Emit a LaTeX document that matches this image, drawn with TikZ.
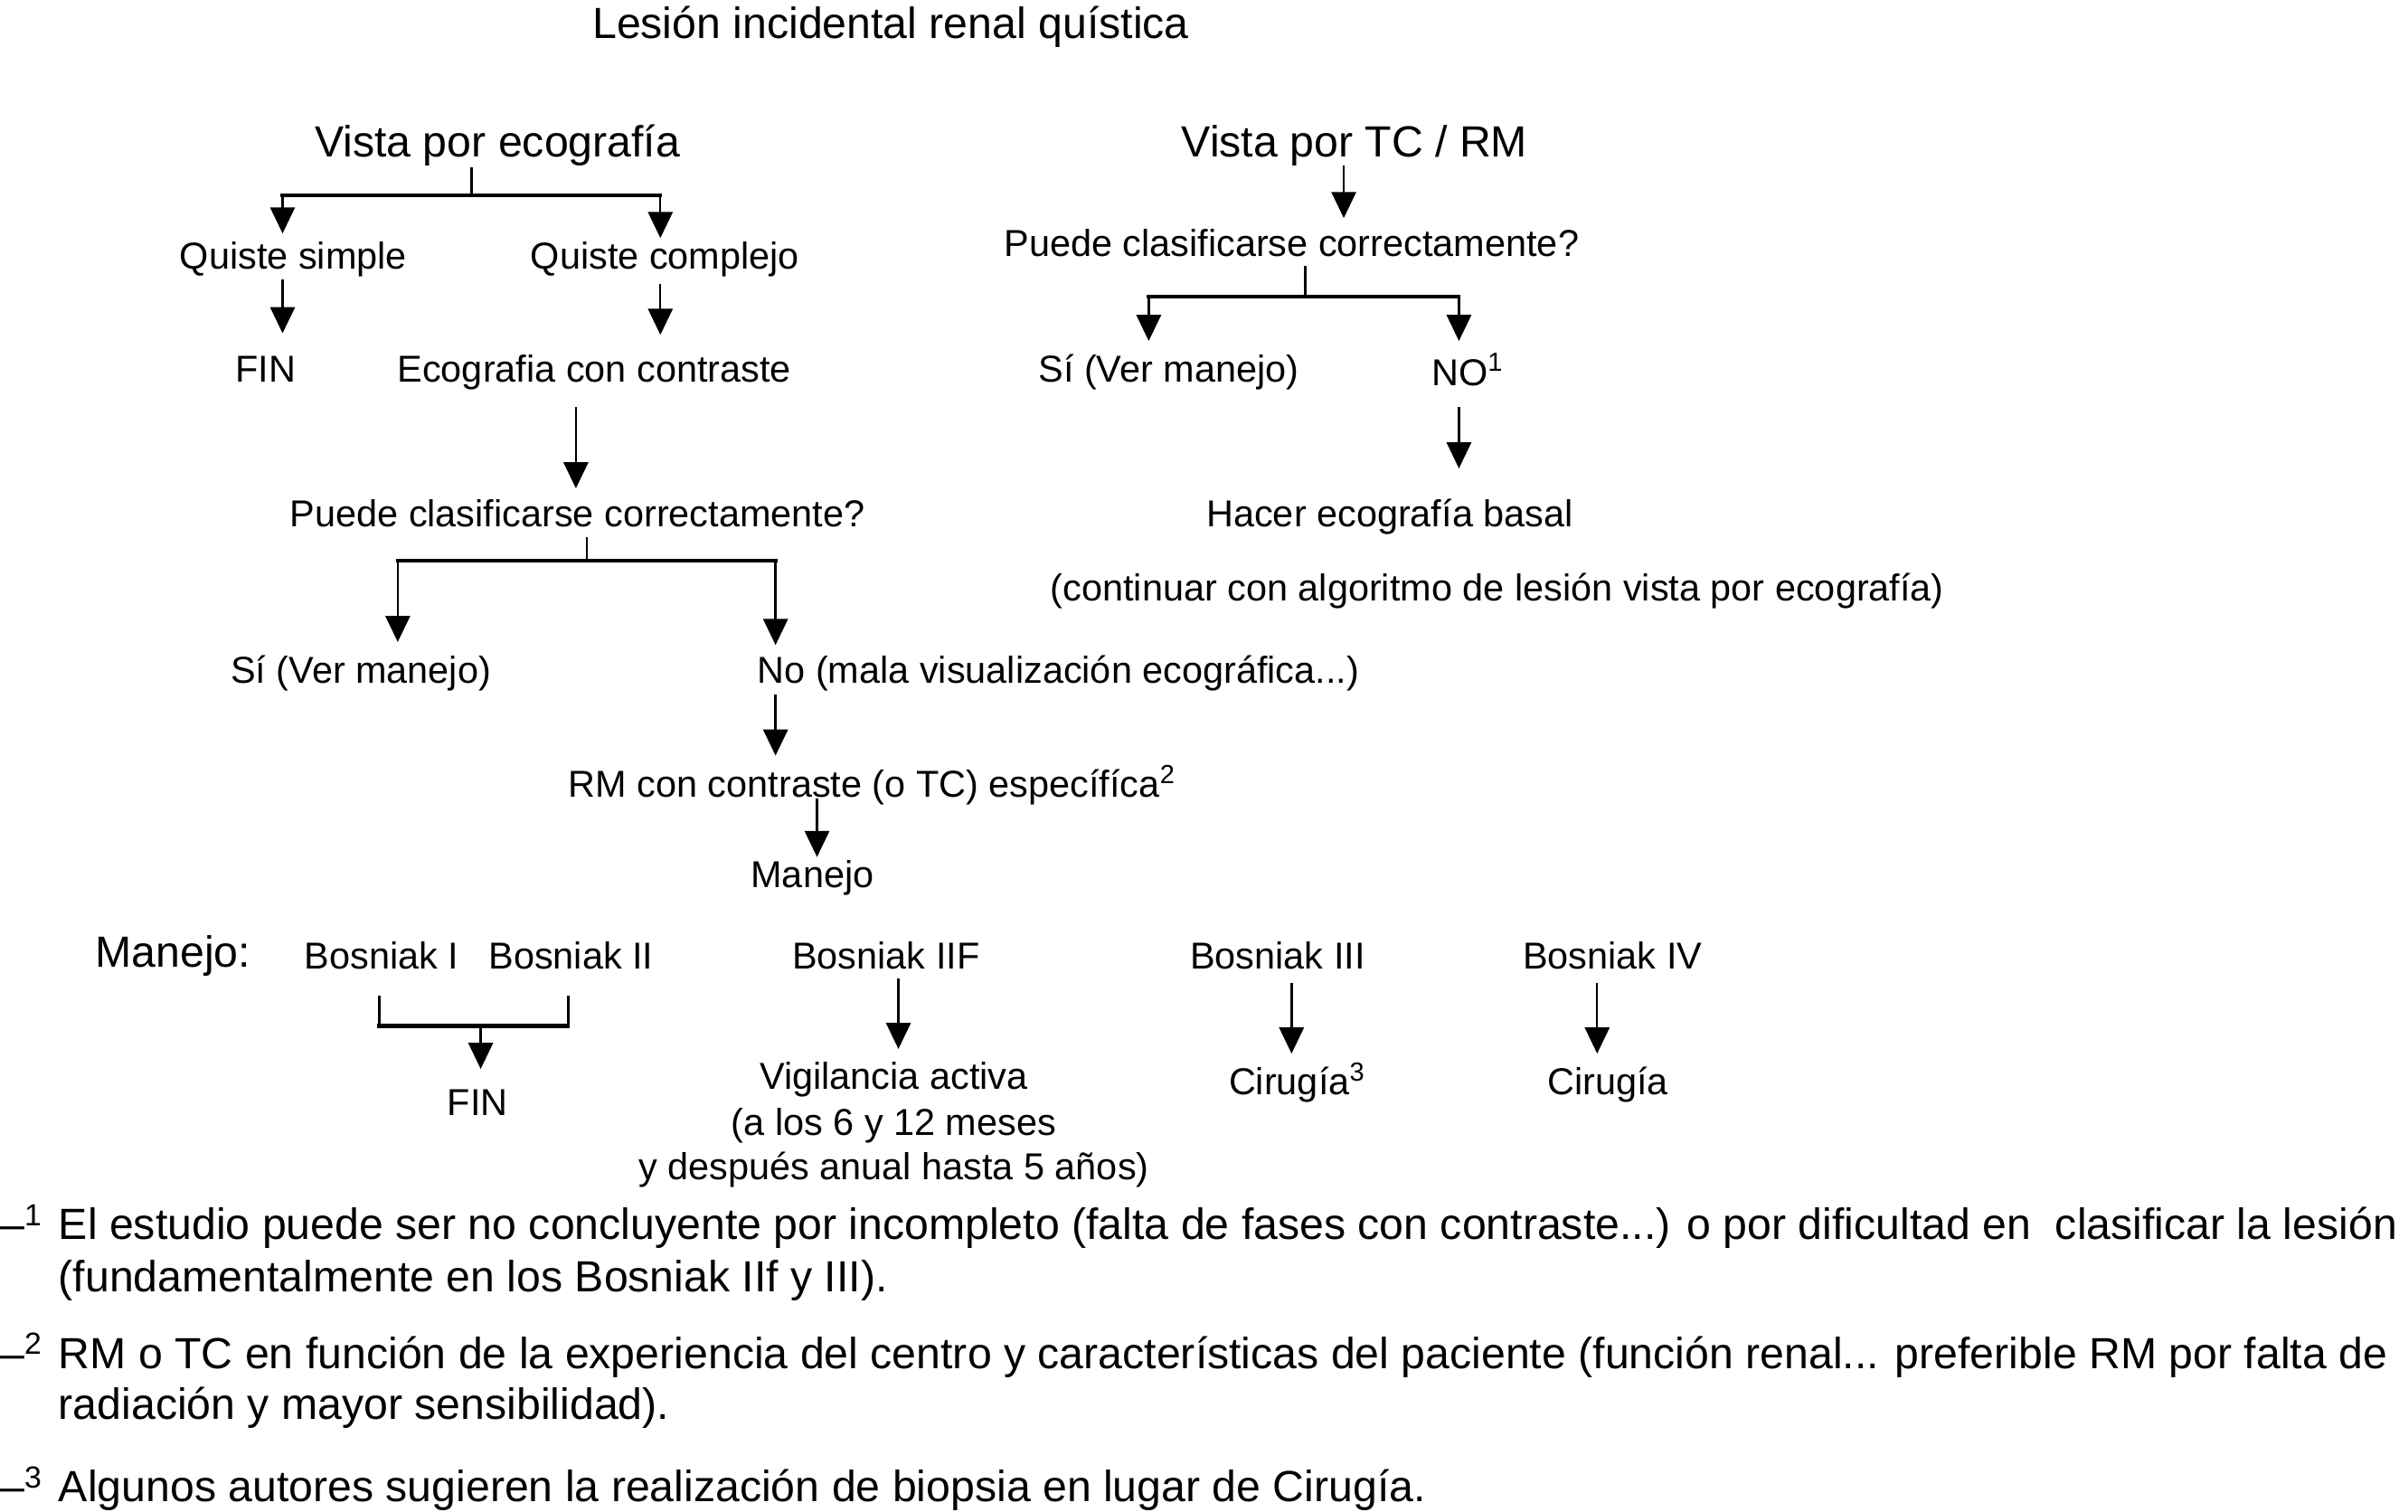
\documentclass[tikz,border=0pt]{standalone}
\usepackage{fontspec}
\setmainfont{Liberation Sans}
\usetikzlibrary{arrows.meta}
\begin{document}
\begin{tikzpicture}[x=1pt,y=-1pt,
  sm/.style={font=\fontsize{24.4pt}{29pt}\selectfont, inner sep=0pt, anchor=base},
  lg/.style={font=\fontsize{28.4pt}{34pt}\selectfont, inner sep=0pt, anchor=base},
  ln/.style={line width=1.4pt},
  barl/.style={line width=2.4pt, line cap=rect},
  arr/.style={line width=1.4pt, -{Triangle[length=17pt,width=16pt]}}]
\useasboundingbox[fill=white] (0,0) rectangle (1568,984);

% ---- text nodes ----
\node[lg] (title) at (580,25) {Lesión incidental renal quística};
\node[lg] (veco) at (324,102) {Vista por ecografía};
\node[lg] (vtc) at (882,102) {Vista por TC / RM};

\node[sm] (qs) at (191,175) {Quiste simple};
\node[sm] (qc) at (433,175) {Quiste complejo};
\node[sm] (fin1) at (173,249) {FIN};
\node[sm] (ecc) at (387,249) {Ecografia con contraste};
\node[sm] (pc1) at (376,343) {Puede clasificarse correctamente?};
\node[sm] (si1) at (235,445) {Sí (Ver manejo)};
\node[sm, anchor=base west] (no1) at (493,445) {No (mala visualización ecográfica...)};
\node[sm, anchor=base west] (rm) at (370,519) {RM con contraste (o TC) específíca\textsuperscript{2}};
\node[sm] (man) at (529,578) {Manejo};

\node[sm] (pc2) at (841,167) {Puede clasificarse correctamente?};
\node[sm] (si2) at (761,249) {Sí (Ver manejo)};
\node[sm, anchor=base west] (no2) at (932,251) {NO\textsuperscript{1}};
\node[sm] (hac) at (905,343) {Hacer ecografía basal};
\node[sm] (cont) at (975,391) {(continuar con algoritmo de lesión vista por ecografía)};

\node[lg, anchor=base west] (manl) at (62,630) {Manejo:};
\node[sm, anchor=base west] (b1) at (198,631) {Bosniak I};
\node[sm, anchor=base west] (b2) at (318,631) {Bosniak II};
\node[sm] (b2f) at (577,631) {Bosniak IIF};
\node[sm] (b3) at (832,631) {Bosniak III};
\node[sm] (b4) at (1050,631) {Bosniak IV};
\node[sm] (fin2) at (311,726) {FIN};
\node[sm] (vig1) at (582,709) {Vigilancia activa};
\node[sm] (vig2) at (582,739) {(a los 6 y 12 meses};
\node[sm] (vig3) at (582,768) {y después anual hasta 5 años)};
\node[sm, anchor=base west] (cir3) at (800,713) {Cirugía\textsuperscript{3}};
\node[sm] (cir4) at (1047,713) {Cirugía};

% ---- footnotes ----
\node[lg, anchor=base west] (d1) at (0,807) {–\textsuperscript{1}};
\node[lg, anchor=base west] (f1a) at (38,807) {El estudio puede ser no concluyente por incompleto (falta de fases con contraste...) o por dificultad en\ \ clasificar la lesión};
\node[lg, anchor=base west] (f1b) at (38,841) {(fundamentalmente en los Bosniak IIf y III).};
\node[lg, anchor=base west] (d2) at (0,891) {–\textsuperscript{2}};
\node[lg, anchor=base west] (f2a) at (38,891) {RM o TC en función de la experiencia del centro y características del paciente (función renal... preferible RM por falta de};
\node[lg, anchor=base west] (f2b) at (38,924) {radiación y mayor sensibilidad).};
\node[lg, anchor=base west] (d3) at (0,978) {–\textsuperscript{3}};
\node[lg, anchor=base west] (f3) at (38,978) {Algunos autores sugieren la realización de biopsia en lugar de Cirugía.};

% ---- connector coordinates ----
\coordinate (s1) at (307,109);  \coordinate (s1b) at (307,127);
\coordinate (s1l) at (184,127); \coordinate (s1r) at (430,127);
\coordinate (t1l) at (184,152); \coordinate (t1r) at (430,155);
\coordinate (qsa) at (184,182); \coordinate (qsb) at (184,217);
\coordinate (qca) at (430,185); \coordinate (qcb) at (430,218);
\coordinate (eca) at (375,265); \coordinate (ecb) at (375,318);
\coordinate (s2) at (382,350);  \coordinate (s2b) at (382,365);
\coordinate (s2l) at (259,365); \coordinate (s2r) at (505,365);
\coordinate (t2l) at (259,418); \coordinate (t2r) at (505,420);
\coordinate (noa) at (505,452); \coordinate (nob) at (505,492);
\coordinate (rma) at (532,520); \coordinate (rmb) at (532,558);

\coordinate (vta) at (875,108); \coordinate (vtb) at (875,142);
\coordinate (s3) at (850,173);  \coordinate (s3b) at (850,193);
\coordinate (s3l) at (748,193); \coordinate (s3r) at (950,193);
\coordinate (t3l) at (748,222); \coordinate (t3r) at (950,222);
\coordinate (n2a) at (950,265); \coordinate (n2b) at (950,305);

\coordinate (bk1) at (247,648); \coordinate (bk1b) at (247,668);
\coordinate (bk2) at (370,648); \coordinate (bk2b) at (370,668);
\coordinate (bkm) at (313,668); \coordinate (bkt) at (313,696);
\coordinate (ifa) at (585,637); \coordinate (ifb) at (585,683);
\coordinate (b3a) at (841,640); \coordinate (b3b) at (841,686);
\coordinate (b4a) at (1040,640); \coordinate (b4b) at (1040,686);

% ---- connectors ----
\draw[ln] (s1) -- (s1b);
\draw[barl] (s1l) -- (s1r);
\draw[arr] (s1l) -- (t1l);
\draw[arr] (s1r) -- (t1r);
\draw[arr] (qsa) -- (qsb);
\draw[arr] (qca) -- (qcb);
\draw[arr] (eca) -- (ecb);
\draw[ln] (s2) -- (s2b);
\draw[barl] (s2l) -- (s2r);
\draw[arr] (s2l) -- (t2l);
\draw[arr] (s2r) -- (t2r);
\draw[arr] (noa) -- (nob);
\draw[arr] (rma) -- (rmb);

\draw[arr] (vta) -- (vtb);
\draw[ln] (s3) -- (s3b);
\draw[barl] (s3l) -- (s3r);
\draw[arr] (s3l) -- (t3l);
\draw[arr] (s3r) -- (t3r);
\draw[arr] (n2a) -- (n2b);

\draw[ln] (bk1) -- (bk1b);
\draw[ln] (bk2) -- (bk2b);
\draw[barl] (bk1b) -- (bk2b);
\draw[arr] (bkm) -- (bkt);
\draw[arr] (ifa) -- (ifb);
\draw[arr] (b3a) -- (b3b);
\draw[arr] (b4a) -- (b4b);
\end{tikzpicture}
\end{document}
